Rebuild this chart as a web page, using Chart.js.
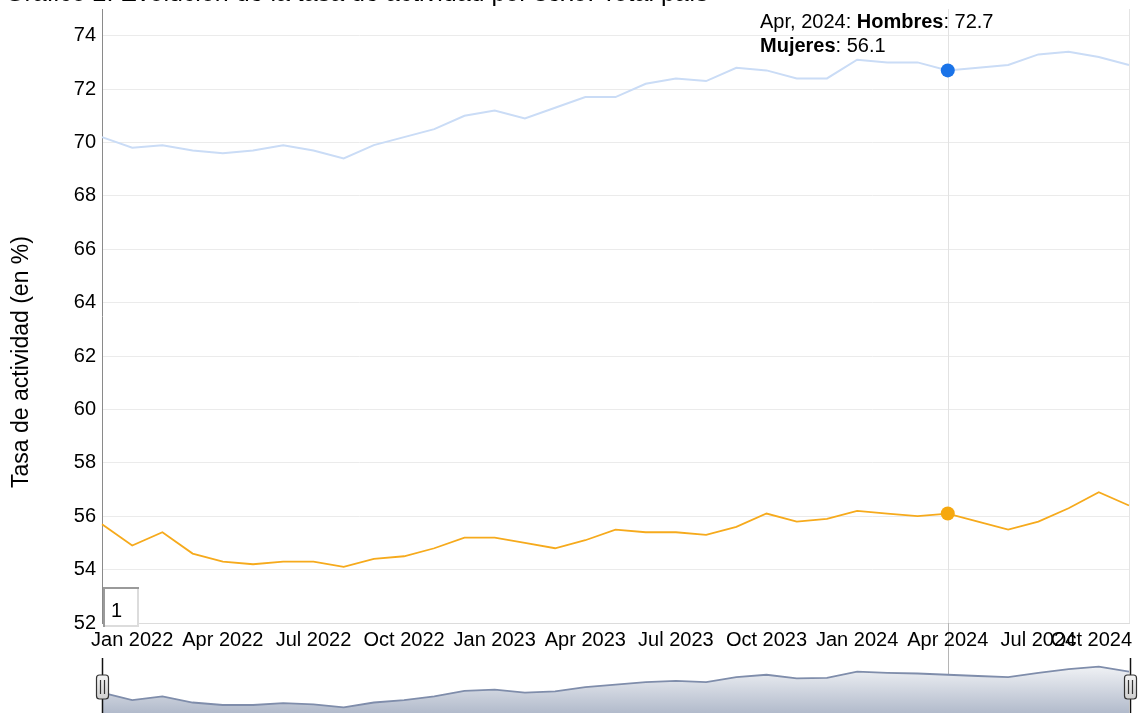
<!DOCTYPE html>
<html>
<head>
<meta charset="utf-8">
<script src="https://cdn.jsdelivr.net/npm/chart.js@4.4.1/dist/chart.umd.min.js"></script>
<style>
  body { margin: 0; background: #fff; overflow: hidden; }
  #wrap { position: relative; width: 1138px; height: 713px; }
  #main { position: absolute; left: 0; top: 0; }
  #mini { position: absolute; left: 0; top: 655px; }
</style>
</head>
<body>
<div id="wrap">
  <canvas id="main" width="1138" height="713"></canvas>
  <canvas id="mini" width="1138" height="58"></canvas>
</div>
<script>
const chartTitle = "Gráfico 2. Evolución de la tasa de actividad por sexo. Total país";
const yTitle = "Tasa de actividad (en %)";

// monthly categories
const months = [
  "Dec 2021",
  "Jan 2022", "Feb 2022", "Mar 2022", "Apr 2022", "May 2022", "Jun 2022",
  "Jul 2022", "Aug 2022", "Sep 2022", "Oct 2022", "Nov 2022", "Dec 2022",
  "Jan 2023", "Feb 2023", "Mar 2023", "Apr 2023", "May 2023", "Jun 2023",
  "Jul 2023", "Aug 2023", "Sep 2023", "Oct 2023", "Nov 2023", "Dec 2023",
  "Jan 2024", "Feb 2024", "Mar 2024", "Apr 2024", "May 2024", "Jun 2024",
  "Jul 2024", "Aug 2024", "Sep 2024", "Oct 2024"
];

const xTickLabels = [
  "Jan 2022", "Apr 2022", "Jul 2022", "Oct 2022",
  "Jan 2023", "Apr 2023", "Jul 2023", "Oct 2023",
  "Jan 2024", "Apr 2024", "Jul 2024", "Oct 2024"
];

const hombres = [
  70.2, 69.8, 69.9, 69.7, 69.6, 69.7, 69.9, 69.7, 69.4, 69.9, 70.2, 70.5,
  71.0, 71.2, 70.9, 71.3, 71.7, 71.7, 72.2, 72.4, 72.3, 72.8, 72.7, 72.4,
  72.4, 73.1, 73.0, 73.0, 72.7, 72.8, 72.9, 73.3, 73.4, 73.2, 72.9
];

const mujeres = [
  55.7, 54.9, 55.4, 54.6, 54.3, 54.2, 54.3, 54.3, 54.1, 54.4, 54.5, 54.8,
  55.2, 55.2, 55.0, 54.8, 55.1, 55.5, 55.4, 55.4, 55.3, 55.6, 56.1, 55.8,
  55.9, 56.2, 56.1, 56.0, 56.1, 55.8, 55.5, 55.8, 56.3, 56.9, 56.4
];

const highlightMonth = "Apr 2024";
const highlightIndex = months.indexOf(highlightMonth);

const FONT = '"Liberation Sans", Arial, sans-serif';

const overlay = {
  id: "overlay",
  beforeDatasetsDraw(chart) {
    const { ctx, chartArea: a, scales: { x } } = chart;
    const px = Math.round(x.getPixelForValue(highlightIndex)) + 0.5;
    ctx.save();
    ctx.lineWidth = 1;
    // right edge
    ctx.strokeStyle = "#e4e4e4";
    ctx.beginPath();
    ctx.moveTo(Math.round(a.right) + 0.5, a.top);
    ctx.lineTo(Math.round(a.right) + 0.5, a.bottom);
    ctx.stroke();
    // crosshair
    ctx.strokeStyle = "#e2e2e2";
    ctx.beginPath();
    ctx.moveTo(px, a.top);
    ctx.lineTo(px, a.bottom);
    ctx.stroke();
    ctx.strokeStyle = "#b5b5b5";
    ctx.beginPath();
    ctx.moveTo(px, a.bottom);
    ctx.lineTo(px, chart.height);
    ctx.stroke();
    ctx.restore();
  },
  afterDraw(chart) {
    const { ctx, chartArea: a, scales: { x } } = chart;
    ctx.save();
    ctx.fillStyle = "#000";

    // title, mostly cut off at the top
    ctx.font = "20px " + FONT;
    const tw = ctx.measureText(chartTitle).width;
    const size = 20 * 702 / tw;
    ctx.font = size.toFixed(1) + "px " + FONT;
    ctx.textAlign = "left";
    ctx.textBaseline = "alphabetic";
    ctx.fillText(chartTitle, 5, 1);

    // y axis title
    ctx.save();
    ctx.font = "23px " + FONT;
    ctx.translate(22, 362);
    ctx.rotate(-Math.PI / 2);
    ctx.textAlign = "center";
    ctx.textBaseline = "middle";
    ctx.fillText(yTitle, 0, 0);
    ctx.restore();

    // x tick labels
    ctx.font = "20px " + FONT;
    ctx.textAlign = "left";
    ctx.textBaseline = "alphabetic";
    xTickLabels.forEach(lbl => {
      const i = months.indexOf(lbl);
      const cx = x.getPixelForValue(i);
      const w = ctx.measureText(lbl).width;
      let left = cx - w / 2;
      if (left + w > a.right + 3) left = a.right + 3 - w;
      if (left < 0) left = 0;
      ctx.fillText(lbl, left, a.bottom + 23);
    });

    // legend
    const lx = 760;
    const parts1 = [
      [highlightMonth.replace(" ", ", ") + ": ", false],
      ["Hombres", true],
      [": " + hombres[highlightIndex].toFixed(1), false]
    ];
    const parts2 = [
      ["Mujeres", true],
      [": " + mujeres[highlightIndex].toFixed(1), false]
    ];
    [[parts1, 28], [parts2, 52]].forEach(([parts, by]) => {
      let cx = lx;
      parts.forEach(([t, b]) => {
        ctx.font = (b ? "bold " : "") + "20px " + FONT;
        ctx.fillText(t, cx, by);
        cx += ctx.measureText(t).width;
      });
    });

    // rolling period box
    const bx = a.left + 1, by = a.bottom - 36, bw = 36, bh = 40;
    ctx.fillStyle = "#fff";
    ctx.fillRect(bx, by, bw, bh);
    ctx.lineWidth = 2;
    ctx.strokeStyle = "#dcdcdc";
    ctx.beginPath();
    ctx.moveTo(bx + bw - 1, by);
    ctx.lineTo(bx + bw - 1, by + bh - 1);
    ctx.lineTo(bx, by + bh - 1);
    ctx.stroke();
    ctx.strokeStyle = "#9a9a9a";
    ctx.beginPath();
    ctx.moveTo(bx + 1, by + bh);
    ctx.lineTo(bx + 1, by + 1);
    ctx.lineTo(bx + bw, by + 1);
    ctx.stroke();
    ctx.fillStyle = "#000";
    ctx.font = "20px " + FONT;
    ctx.fillText("1", bx + 8, by + 30);

    ctx.restore();
  }
};

new Chart(document.getElementById("main"), {
  type: "line",
  data: {
    labels: months,
    datasets: [
      {
        label: "Hombres",
        data: hombres,
        borderColor: "#cadcf6",
        borderWidth: 2,
        pointRadius: ctx => (ctx.dataIndex === highlightIndex ? 7 : 0),
        pointBackgroundColor: "#1a73e8",
        pointBorderWidth: 0,
        tension: 0
      },
      {
        label: "Mujeres",
        data: mujeres,
        borderColor: "#f6aa1c",
        borderWidth: 1.8,
        pointRadius: ctx => (ctx.dataIndex === highlightIndex ? 7 : 0),
        pointBackgroundColor: "#f6a80f",
        pointBorderWidth: 0,
        tension: 0
      }
    ]
  },
  options: {
    responsive: false,
    animation: false,
    events: [],
    layout: { padding: { left: 0, right: 9, top: 9, bottom: 90 } },
    plugins: {
      legend: { display: false },
      tooltip: { enabled: false }
    },
    scales: {
      x: {
        grid: { display: false },
        border: { display: true, color: "#dcdcdc" },
        ticks: { display: false },
        afterFit: scale => { scale.height = 0; }
      },
      y: {
        min: 52,
        max: 75,
        grid: { color: "#ebebeb", drawTicks: false },
        border: { display: true, color: "#8a8a8a" },
        ticks: {
          stepSize: 2,
          padding: 6,
          color: "#000",
          font: { family: FONT, size: 20 }
        },
        afterBuildTicks: scale => {
          scale.ticks = scale.ticks.filter(t => t.value % 2 === 0);
        },
        afterFit: scale => {
          scale.width = 102;
          scale.paddingTop = 0;
          scale.paddingBottom = 0;
        }
      }
    }
  },
  plugins: [overlay]
});

// range selector mini plot
const avg = hombres.map((v, i) => (v + mujeres[i]) / 2);

const handles = {
  id: "handles",
  afterDraw(chart) {
    const { ctx, chartArea: a } = chart;
    ctx.save();
    [a.left, a.right + 1].forEach(hx => {
      const cx = Math.round(hx) + 0.5;
      ctx.strokeStyle = "#111";
      ctx.lineWidth = 1.5;
      ctx.beginPath();
      ctx.moveTo(cx, 3);
      ctx.lineTo(cx, chart.height);
      ctx.stroke();
      const w = 12, h = 24, top = 20;
      const g = ctx.createLinearGradient(0, top, 0, top + h);
      g.addColorStop(0, "#f4f4f4");
      g.addColorStop(1, "#cfcfcf");
      ctx.fillStyle = g;
      ctx.strokeStyle = "#333";
      ctx.lineWidth = 1.2;
      ctx.beginPath();
      ctx.roundRect(cx - w / 2, top, w, h, 3);
      ctx.fill();
      ctx.stroke();
      ctx.lineWidth = 1.2;
      ctx.beginPath();
      ctx.moveTo(cx - 2, top + 5);
      ctx.lineTo(cx - 2, top + h - 5);
      ctx.moveTo(cx + 2, top + 5);
      ctx.lineTo(cx + 2, top + h - 5);
      ctx.stroke();
    });
    ctx.restore();
  }
};

new Chart(document.getElementById("mini"), {
  type: "line",
  data: {
    labels: months,
    datasets: [{
      data: avg,
      borderColor: "#7f8dab",
      borderWidth: 1.8,
      pointRadius: 0,
      fill: "start",
      backgroundColor: ctx => {
        const g = ctx.chart.ctx.createLinearGradient(0, 0, 0, 66);
        g.addColorStop(0, "#ffffff");
        g.addColorStop(1, "#a7b1c4");
        return g;
      }
    }]
  },
  options: {
    responsive: false,
    animation: false,
    events: [],
    layout: { padding: { left: 102, right: 9, top: 0, bottom: 0 } },
    plugins: {
      legend: { display: false },
      tooltip: { enabled: false }
    },
    scales: {
      x: { display: false },
      y: { display: false, min: 61.3, max: 66.0 }
    }
  },
  plugins: [handles]
});
</script>
</body>
</html>
